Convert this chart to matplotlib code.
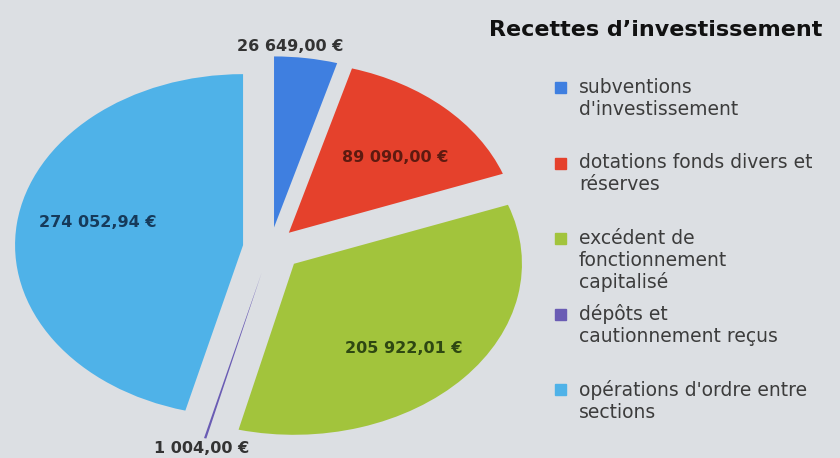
import matplotlib.pyplot as plt
import numpy as np
from matplotlib.patches import Rectangle

# =============================================================================
# Data
# =============================================================================
categories = ["subventions\nd'investissement",
              "dotations fonds divers et\nréserves",
              "excédent de\nfonctionnement\ncapitalisé",
              "dépôts et\ncautionnement reçus",
              "opérations d'ordre entre\nsections"]
values = [26649.00, 89090.00, 205922.01, 1004.00, 274052.94]
colors = ['#3f7fe0', '#e5412c', '#a2c43c', '#6a5cb4', '#4fb2e8']
label_colors = ['#333333', '#5e1a10', '#2e4712', '#333333', '#163a5a']
title = "Recettes d\u2019investissement"

# label placement (radius, angle nudge in deg)
label_r = [1.18, 0.76, 0.83, 1.21, 0.77]
label_da = [3.7, -3, -3, 0, -3.6]


def euro(v):
    s = f"{v:,.2f}"
    return s.replace(",", " ").replace(".", ",") + " \u20ac"


bg = '#dcdfe3'
plt.rcParams['font.family'] = ['DejaVu Sans']

fig = plt.figure(figsize=(8.4, 4.58), dpi=100)
fig.set_facecolor(bg)

# pie axes, stretched horizontally like the original
ax = fig.add_axes([8 / 840, 5 / 458, 524.4 / 840, 419 / 458])
ax.set_facecolor(bg)
wedges, _ = ax.pie(values, colors=colors, startangle=90, counterclock=False,
                   explode=[0.12, 0.12, 0.14, 0.15, 0.12],
                   wedgeprops=dict(linewidth=0))
ax.set_aspect('auto')
ax.set_xlim(-1.15, 1.15)
ax.set_ylim(-1.2, 1.25)
ax.axis('off')

for w, v, r, da, c in zip(wedges, values, label_r, label_da, label_colors):
    ang = np.deg2rad((w.theta1 + w.theta2) / 2 + da)
    ax.text(np.cos(ang) * r, np.sin(ang) * r, euro(v),
            ha='center', va='center', fontsize=11.5, color=c,
            fontweight='semibold')

# title
fig.text(656 / 840, 1 - 30 / 458, title, ha='center', va='center',
         fontsize=16, fontweight='bold', color='#111111')

# legend
y0 = 88
step = 75.5
for i, (lab, col) in enumerate(zip(categories, colors)):
    y = y0 + i * step
    fig.patches.append(Rectangle((555 / 840, 1 - (y + 5) / 458), 11 / 840, 11 / 458,
                                 transform=fig.transFigure, color=col))
    fig.text(579 / 840, 1 - (y - 10) / 458, lab, ha='left', va='top',
             fontsize=13.5, color='#3c3c3c', linespacing=1.17)

plt.savefig('out.png', dpi=100, facecolor=bg)
